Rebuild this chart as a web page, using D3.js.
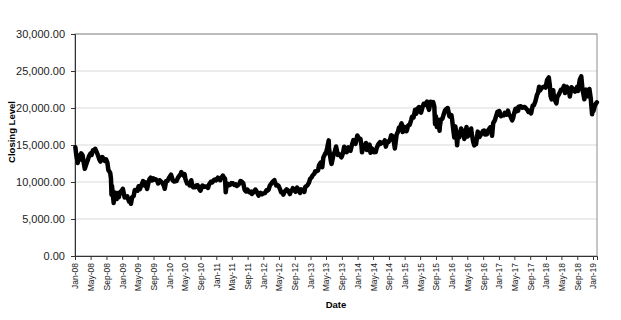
<!DOCTYPE html>
<html>
<head>
<meta charset="utf-8">
<script src="https://cdn.jsdelivr.net/npm/d3@7"></script>
<style>
  body { margin: 0; background: #fff; }
  text { font-family: "Liberation Sans", Arial, sans-serif; }
</style>
</head>
<body>
<div id="chart"></div>
<script>
  // даты и закрытия (примерно)
  let dates = [
    "2008-01-04","2008-01-11","2008-01-22","2008-01-31","2008-02-08","2008-02-18","2008-02-29","2008-03-07","2008-03-17","2008-03-31",
    "2008-04-08","2008-04-18","2008-04-30","2008-05-09","2008-05-19","2008-05-30","2008-06-06","2008-06-18","2008-06-30","2008-07-08",
    "2008-07-16","2008-07-31","2008-08-08","2008-08-19","2008-08-29","2008-09-08","2008-09-16","2008-09-30","2008-10-06","2008-10-10",
    "2008-10-14","2008-10-27","2008-10-31","2008-11-07","2008-11-20","2008-11-28","2008-12-05","2008-12-16","2008-12-30",
    "2009-01-06","2009-01-20","2009-01-30","2009-02-09","2009-02-23","2009-02-27","2009-03-10","2009-03-19","2009-03-31","2009-04-09",
    "2009-04-17","2009-04-30","2009-05-08","2009-05-18","2009-05-29","2009-06-12","2009-06-23","2009-06-30","2009-07-13","2009-07-24",
    "2009-07-31","2009-08-10","2009-08-20","2009-08-31","2009-09-07","2009-09-18","2009-09-30","2009-10-07","2009-10-19","2009-10-30",
    "2009-11-10","2009-11-20","2009-11-27","2009-12-08","2009-12-18","2009-12-30",
    "2010-01-15","2010-01-29","2010-02-08","2010-02-19","2010-02-26","2010-03-09","2010-03-19","2010-03-31","2010-04-05","2010-04-20",
    "2010-04-30","2010-05-07","2010-05-20","2010-05-31","2010-06-08","2010-06-21","2010-06-30","2010-07-07","2010-07-21","2010-07-30",
    "2010-08-09","2010-08-24","2010-08-31","2010-09-15","2010-09-30","2010-10-12","2010-10-25","2010-10-29","2010-11-05","2010-11-19",
    "2010-11-30","2010-12-10","2010-12-22","2010-12-30",
    "2011-01-13","2011-01-28","2011-01-31","2011-02-10","2011-02-21","2011-02-28","2011-03-10","2011-03-15","2011-03-22","2011-03-31",
    "2011-04-12","2011-04-22","2011-04-28","2011-05-10","2011-05-20","2011-05-31","2011-06-09","2011-06-21","2011-06-30","2011-07-08",
    "2011-07-20","2011-07-29","2011-08-09","2011-08-19","2011-08-31","2011-09-13","2011-09-22","2011-09-30","2011-10-04","2011-10-21",
    "2011-10-31","2011-11-09","2011-11-25","2011-11-30","2011-12-09","2011-12-20","2011-12-30",
    "2012-01-13","2012-01-25","2012-01-31","2012-02-10","2012-02-20","2012-02-29","2012-03-14","2012-03-27","2012-03-30","2012-04-10",
    "2012-04-20","2012-04-27","2012-05-09","2012-05-18","2012-05-31","2012-06-04","2012-06-15","2012-06-29","2012-07-11","2012-07-25",
    "2012-07-31","2012-08-10","2012-08-17","2012-08-31","2012-09-06","2012-09-19","2012-09-28","2012-10-12","2012-10-19","2012-10-31",
    "2012-11-14","2012-11-22","2012-11-30","2012-12-07","2012-12-20","2012-12-28",
    "2013-01-10","2013-01-18","2013-01-31","2013-02-06","2013-02-20","2013-02-28","2013-03-08","2013-03-21","2013-03-29","2013-04-02",
    "2013-04-10","2013-04-26","2013-04-30","2013-05-10","2013-05-22","2013-05-24","2013-05-31","2013-06-07","2013-06-13","2013-06-20",
    "2013-06-28","2013-07-08","2013-07-18","2013-07-31","2013-08-07","2013-08-16","2013-08-28","2013-08-30","2013-09-09","2013-09-19",
    "2013-09-30","2013-10-09","2013-10-21","2013-10-31","2013-11-07","2013-11-20","2013-11-29","2013-12-06","2013-12-16","2013-12-30",
    "2014-01-10","2014-01-23","2014-01-31","2014-02-04","2014-02-18","2014-02-28","2014-03-07","2014-03-14","2014-03-31","2014-04-04",
    "2014-04-11","2014-04-22","2014-04-30","2014-05-07","2014-05-21","2014-05-30","2014-06-10","2014-06-24","2014-06-30","2014-07-08",
    "2014-07-23","2014-07-31","2014-08-08","2014-08-20","2014-08-29","2014-09-09","2014-09-19","2014-09-30","2014-10-06","2014-10-17",
    "2014-10-31","2014-11-10","2014-11-18","2014-11-28","2014-12-08","2014-12-16","2014-12-30",
    "2015-01-06","2015-01-16","2015-01-30","2015-02-09","2015-02-20","2015-02-27","2015-03-11","2015-03-23","2015-03-31","2015-04-10",
    "2015-04-22","2015-04-30","2015-05-08","2015-05-22","2015-05-29","2015-06-08","2015-06-24","2015-06-30","2015-07-09","2015-07-21",
    "2015-07-31","2015-08-10","2015-08-19","2015-08-25","2015-08-31","2015-09-08","2015-09-17","2015-09-29","2015-09-30","2015-10-09",
    "2015-10-21","2015-10-30","2015-11-10","2015-11-20","2015-11-30","2015-12-01","2015-12-14","2015-12-25","2015-12-30",
    "2016-01-04","2016-01-12","2016-01-21","2016-01-29","2016-02-05","2016-02-12","2016-02-17","2016-02-29","2016-03-14","2016-03-24",
    "2016-03-31","2016-04-08","2016-04-25","2016-04-28","2016-05-02","2016-05-16","2016-05-31","2016-06-03","2016-06-16","2016-06-24",
    "2016-06-30","2016-07-08","2016-07-21","2016-07-29","2016-08-03","2016-08-19","2016-08-31","2016-09-08","2016-09-15","2016-09-30",
    "2016-10-11","2016-10-25","2016-10-31","2016-11-09","2016-11-18","2016-11-30","2016-12-08","2016-12-21","2016-12-30",
    "2017-01-04","2017-01-18","2017-01-31","2017-02-08","2017-02-16","2017-02-28","2017-03-13","2017-03-22","2017-03-31","2017-04-14",
    "2017-04-21","2017-04-28","2017-05-10","2017-05-18","2017-05-31","2017-06-02","2017-06-20","2017-06-30","2017-07-10","2017-07-20",
    "2017-07-31","2017-08-10","2017-08-18","2017-08-31","2017-09-08","2017-09-20","2017-09-29","2017-10-11","2017-10-24","2017-10-31",
    "2017-11-09","2017-11-16","2017-11-30","2017-12-08","2017-12-20","2017-12-29",
    "2018-01-10","2018-01-23","2018-01-31","2018-02-06","2018-02-14","2018-02-27","2018-02-28","2018-03-07","2018-03-23","2018-03-30",
    "2018-04-10","2018-04-20","2018-04-27","2018-05-09","2018-05-21","2018-05-30","2018-05-31","2018-06-12","2018-06-26","2018-06-29",
    "2018-07-05","2018-07-18","2018-07-31","2018-08-03","2018-08-15","2018-08-31","2018-09-07","2018-09-21","2018-09-28","2018-10-02",
    "2018-10-11","2018-10-26","2018-10-31","2018-11-08","2018-11-20","2018-11-30","2018-12-04","2018-12-14","2018-12-25","2018-12-28",
    "2019-01-04","2019-01-17","2019-01-31"
  ];

  let closes = [
    14691,13629,12573,13592,13017,13867,13603,12783,11787,12525,
    12900,13476,13849,13655,14269,14338,14489,14000,13481,13033,
    12760,13376,13168,12851,13072,12624,11609,11259,10473,8276,
    9447,7162,8576,8583,7703,8512,7917,8612,8859,
    9080,7902,7994,8076,7376,7568,7055,7946,8109,8916,
    8908,8828,9432,9038,9522,10135,9549,9958,9050,9944,
    10356,10585,10204,10492,10320,10370,10133,9800,10237,10034,
    9871,9497,9081,10140,10142,10546,
    10982,10198,10057,10123,10126,10567,10824,11089,11339,10900,
    11057,10364,9784,9768,9537,10238,9382,9279,9278,9537,
    9572,8995,8824,9516,9369,9388,9401,9202,9625,10022,
    9937,10211,10346,10228,
    10589,10360,10237,10605,10857,10624,10434,8605,9608,9755,
    9555,9682,9849,9818,9607,9693,9467,9629,9816,10137,
    10005,9833,8944,8719,8955,8617,8560,8700,8382,8678,
    8988,8756,8160,8434,8536,8336,8455,
    8500,8883,8802,8947,9485,9723,10050,10255,10083,9538,
    9561,9520,9045,8611,8542,8295,8721,9006,8851,8365,
    8695,8891,9162,8839,8680,9232,8870,8534,9002,8928,
    8664,9366,9446,9527,9923,10395,
    10652,10913,11138,11463,11468,11559,12283,12635,12397,12003,
    13288,13884,13860,14607,15627,14612,13774,12877,12445,13014,
    13677,14109,14808,13668,13825,13650,13338,13388,13860,14766,
    14455,14037,14693,14327,14228,15126,15662,15299,15152,16291,
    15912,15820,14915,14009,14843,14841,15274,14327,14828,15063,
    13960,14546,14304,14033,14042,14632,15069,15376,15162,15314,
    15328,15621,14778,15449,15425,15705,16321,16174,15783,14532,
    16414,16780,17344,17460,17935,16755,17451,
    16883,16864,17674,17711,18332,18798,18723,19754,19207,19908,
    20133,19520,19379,20264,20563,20457,20868,20236,19737,20841,
    20585,20808,20222,17806,18890,17427,18432,16931,17388,18438,
    18554,19083,19671,19879,19747,20012,18883,18770,19034,
    18451,17219,16017,17518,16820,14953,16054,16027,17233,16892,
    16759,15821,17440,16666,16147,16467,17235,16642,15434,14952,
    15576,15107,16810,16569,16084,16545,16887,16959,16405,16450,
    17025,17365,17425,16251,17968,18308,18765,19494,19114,
    19594,18894,19041,19007,19347,19119,19634,19041,18909,18335,
    18620,19197,19900,19553,19651,20177,20230,20033,20080,20144,
    19925,19729,19470,19646,19275,20310,20356,20881,21805,22012,
    22869,22351,22725,22811,22892,22765,
    23788,24124,23098,21610,21154,22389,22068,21253,20617,21454,
    21794,22162,22468,22408,23002,22018,22202,22878,22342,22305,
    21547,22794,22554,22525,22204,22865,22307,23870,24120,24270,
    22591,21184,21920,22487,21583,22351,22575,21374,19155,20015,
    19561,20402,20773
  ];

  // деления осей
  let yTicks = [0, 5000, 10000, 15000, 20000, 25000, 30000];
  let xStart = "2008-01-01", xEnd = "2019-02-01";
  let xLabel = "Date", yLabel = "Closing Level";

  let width = 621, height = 320;
  let margin = { top: 34, right: 24, bottom: 64, left: 75 };

  let parse = d3.timeParse("%Y-%m-%d");
  let data = dates.map((d, i) => ({ date: parse(d), value: closes[i] }));

  let svg = d3.select("#chart").append("svg")
              .attr("width", width).attr("height", height);

  let x = d3.scaleTime().domain([parse(xStart), parse(xEnd)])
            .range([margin.left, width - margin.right]);
  let y = d3.scaleLinear().domain([0, 30000])
            .range([height - margin.bottom, margin.top]);

  // сетка
  svg.append("g").selectAll("line").data(yTicks.slice(1)).enter().append("line")
     .attr("x1", margin.left).attr("x2", width - margin.right)
     .attr("y1", d => y(d)).attr("y2", d => y(d))
     .attr("stroke", "#d9d9d9").attr("stroke-width", 1);

  // рамка области построения
  svg.append("rect")
     .attr("x", margin.left).attr("y", margin.top)
     .attr("width", width - margin.left - margin.right)
     .attr("height", height - margin.top - margin.bottom)
     .attr("fill", "none").attr("stroke", "#8c8c8c").attr("stroke-width", 1);

  // ось Y
  let yAxis = svg.append("g").attr("transform", `translate(${margin.left},0)`)
     .call(d3.axisLeft(y).tickValues(yTicks).tickFormat(d3.format(",.2f")).tickSize(4).tickPadding(6));
  yAxis.selectAll("text").style("font-size", "11px").attr("fill", "#222");

  // ось X
  let xTicks = d3.timeMonth.every(4).range(parse(xStart), d3.timeDay.offset(parse("2019-01-01"), 1));
  let xAxis = svg.append("g").attr("transform", `translate(0,${height - margin.bottom})`)
     .call(d3.axisBottom(x).tickValues(xTicks).tickFormat(d3.timeFormat("%b-%y")).tickSize(4));
  xAxis.selectAll("text")
     .attr("x", -7).attr("y", 0).attr("dy", "0.35em")
     .attr("transform", "rotate(-90)")
     .style("text-anchor", "end").style("font-size", "8.5px").attr("fill", "#222");

  svg.selectAll(".domain").attr("stroke", "#333");
  svg.selectAll(".tick line").attr("stroke", "#333");

  // линия
  let line = d3.line().x(d => x(d.date)).y(d => y(d.value));
  svg.append("path").datum(data)
     .attr("d", line)
     .attr("fill", "none").attr("stroke", "#000")
     .attr("stroke-width", 4.5).attr("stroke-linejoin", "round").attr("stroke-linecap", "round");

  // подписи осей
  svg.append("text").text(xLabel)
     .attr("x", (margin.left + width - margin.right) / 2).attr("y", 308)
     .attr("text-anchor", "middle").style("font-size", "9.5px").style("font-weight", "bold");

  svg.append("text").text(yLabel)
     .attr("transform", "translate(15,132) rotate(-90)")
     .attr("text-anchor", "middle").style("font-size", "9.5px").style("font-weight", "bold");
</script>
</body>
</html>
